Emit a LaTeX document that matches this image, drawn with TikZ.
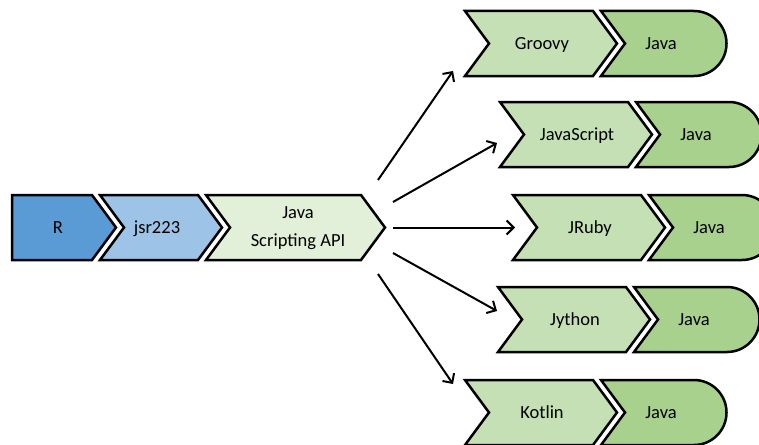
\documentclass[tikz,border=0pt]{standalone}
\usepackage{fontspec}
\setmainfont{Carlito}
\usetikzlibrary{arrows.meta}
\definecolor{rblue}{HTML}{5B9BD5}
\definecolor{jblue}{HTML}{9DC3E6}
\definecolor{apigreen}{HTML}{E2F0D9}
\definecolor{chevgreen}{HTML}{C5E0B4}
\definecolor{javagreen}{HTML}{A9D18E}
\tikzset{
  shp/.style={draw=black, line width=2.5pt, line join=miter},
  lbl/.style={font=\fontsize{18.5}{27}\selectfont, align=center, inner sep=0pt, text height=11.5pt, text depth=0pt},
  lbl2/.style={font=\fontsize{18.5}{28}\selectfont, align=center, inner sep=0pt},
  conn/.style={line width=2pt, -{Straight Barb[length=7pt,width=14pt,line width=2pt]}}
}
\newcommand{\greenrow}[4]{%
  \draw[shp, fill=chevgreen] (#1,#2) -- ({#1+128},#2) -- ({#1+152},{#2+32.5}) -- ({#1+128},{#2+65}) -- (#1,{#2+65}) -- ({#1+24},{#2+32.5}) -- cycle;
  \draw[shp, fill=javagreen] ({#1+136},#2) -- ({#1+229},#2) arc[start angle=-90,end angle=90,radius=32.5] -- ({#1+136},{#2+65}) -- ({#1+160},{#2+32.5}) -- cycle;
  \node[lbl] (#3) at ({#1+77},{#2+32.5}) {#4};
  \node[lbl] (#3j) at ({#1+196},{#2+32.5}) {Java};
}
\begin{document}
\begin{tikzpicture}[x=1pt,y=-1pt]
\useasboundingbox (0,0) rectangle (759,444);
% left chain
\draw[shp, fill=rblue] (12,195) -- (92,195) -- (116,227.5) -- (92,260) -- (12,260) -- cycle;
\node[lbl] (r) at (58,227.5) {R};
\draw[shp, fill=jblue] (100,195) -- (198,195) -- (222,227.5) -- (198,260) -- (100,260) -- (124,227.5) -- cycle;
\node[lbl] (jsr) at (157,227.5) {jsr223};
\draw[shp, fill=apigreen] (206,195) -- (361,195) -- (385,227.5) -- (361,260) -- (206,260) -- (230,227.5) -- cycle;
\node[lbl2] (api) at (298,228) {Java\\Scripting API};
% right rows
\greenrow{465}{11}{groovy}{Groovy}
\greenrow{500}{102}{js}{JavaScript}
\greenrow{513}{195}{jruby}{JRuby}
\greenrow{498}{287}{jython}{Jython}
\greenrow{465}{380}{kotlin}{Kotlin}
% connectors
\coordinate (s1) at (378,180);
\coordinate (e1) at (453,71);
\coordinate (s2) at (393,202);
\coordinate (e2) at (497,143);
\coordinate (s3) at (393,227.5);
\coordinate (e3) at (515,227.5);
\coordinate (s4) at (393,253);
\coordinate (e4) at (497,311);
\coordinate (s5) at (378,274);
\coordinate (e5) at (453,384);
\draw[conn] (s1) -- (e1);
\draw[conn] (s2) -- (e2);
\draw[conn] (s3) -- (e3);
\draw[conn] (s4) -- (e4);
\draw[conn] (s5) -- (e5);
\end{tikzpicture}
\end{document}
